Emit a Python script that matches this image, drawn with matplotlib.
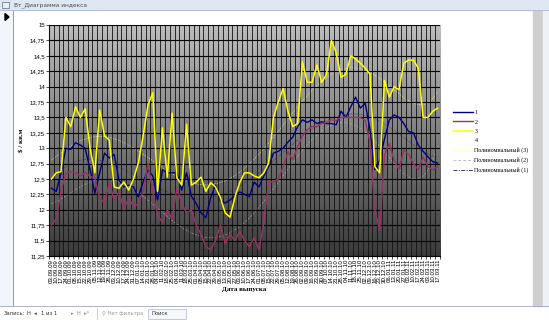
import numpy as np
import pandas as pd
import matplotlib.pyplot as plt
from matplotlib.patches import Rectangle, Polygon
from matplotlib.colors import LinearSegmentedColormap

# weekly issue dates (categories)
dates = pd.date_range('2009-09-03', periods=81, freq='7D').strftime('%d.%m.%y').tolist()

# series values, $ / sq.m
s1 = [12.35, 12.30, 12.60, 13.00, 12.98, 13.09, 13.05, 13.00, 12.65, 12.27,
      12.60, 12.92, 12.84, 12.90, 12.48, 12.37, 12.40, 12.37, 12.21, 12.45,
      12.65, 12.55, 12.16, 12.65, 12.60, 12.60, 12.60, 12.32, 12.60, 12.22,
      12.10, 11.95, 11.87, 12.20, 12.40, 12.15, 12.11, 12.16, 12.22, 12.29,
      12.25, 12.21, 12.45, 12.37, 12.55, 12.70, 12.92, 12.95, 13.00, 13.10,
      13.18, 13.35, 13.46, 13.42, 13.46, 13.40, 13.43, 13.40, 13.40, 13.38,
      13.60, 13.50, 13.67, 13.83, 13.65, 13.73, 13.30, 12.65, 12.80, 13.15,
      13.46, 13.54, 13.50, 13.40, 13.27, 13.25, 13.05, 12.95, 12.86, 12.78,
      12.76]
s2 = [11.75, 11.85, 12.30, 12.60, 12.62, 12.60, 12.55, 12.60, 12.55, 12.50,
      12.20, 12.10, 12.45, 12.15, 12.30, 12.00, 12.20, 12.05, 12.10, 12.30,
      12.75, 12.30, 11.90, 11.80, 12.00, 11.85, 12.35, 12.10, 11.95, 12.00,
      11.75, 11.60, 11.40, 11.35, 11.50, 11.75, 11.45, 11.60, 11.50, 11.65,
      11.50, 11.40, 11.55, 11.35, 11.80, 12.45, 12.45, 12.50, 12.70, 12.94,
      12.81, 13.02, 13.20, 13.30, 13.35, 13.35, 13.40, 13.42, 13.46, 13.45,
      13.50, 13.50, 13.50, 13.50, 13.50, 13.45, 13.10, 12.00, 11.67, 12.90,
      13.08, 12.80, 12.65, 12.97, 12.90, 12.75, 12.65, 12.86, 12.70, 12.65,
      12.70]
s3 = [12.50, 12.60, 12.62, 13.50, 13.35, 13.67, 13.50, 13.64, 13.00, 12.60,
      13.62, 13.20, 13.13, 12.37, 12.35, 12.45, 12.32, 12.50, 12.76, 13.20,
      13.70, 13.90, 12.30, 13.33, 12.53, 13.57, 12.52, 12.40, 13.39, 12.40,
      12.45, 12.53, 12.30, 12.44, 12.37, 12.20, 11.95, 11.88, 12.20, 12.44,
      12.60, 12.60, 12.55, 12.52, 12.60, 12.76, 13.50, 13.75, 13.97, 13.60,
      13.35, 13.40, 14.40, 14.07, 14.07, 14.35, 14.07, 14.20, 14.75, 14.55,
      14.15, 14.20, 14.50, 14.45, 14.38, 14.30, 14.20, 12.70, 12.60, 14.10,
      13.83, 14.00, 13.95, 14.38, 14.43, 14.43, 14.30, 13.50, 13.50, 13.60,
      13.65]
s4 = []
yticks = [11.25, 11.5, 11.75, 12, 12.25, 12.5, 12.75, 13, 13.25, 13.5,
          13.75, 14, 14.25, 14.5, 14.75, 15]

W, H = 549, 321
fig = plt.figure(figsize=(W / 100, H / 100), dpi=100)

# window chrome drawn in pixel coordinates
bg = fig.add_axes([0, 0, 1, 1])
bg.set_xlim(0, W)
bg.set_ylim(H, 0)
bg.axis('off')
bg.add_patch(Rectangle((0, 0), W, H, color='white'))
bg.add_patch(Rectangle((0, 0), W, 10, color='#dfe7f3'))
bg.plot([0, W], [10, 10], color='#a9b8cf', lw=0.6)
bg.add_patch(Rectangle((2, 2), 7, 6, facecolor='#e8eef8', edgecolor='#5a6a86', lw=0.5))
bg.text(14, 5, 'Вт_Диаграмма индекса', fontsize=4.2, color='#4a4a4a', va='center',
        family='DejaVu Sans')
bg.add_patch(Rectangle((0, 10.5), 12, 295, color='#f2f5fa'))
bg.plot([12.5, 12.5], [10.5, 305], color='#8a8a8a', lw=0.6)
bg.add_patch(Polygon([[5, 13.5], [5, 20.5], [9, 17]], color='black'))
bg.add_patch(Rectangle((533, 10.5), 10, 295, color='#cfcfcf'))
bg.add_patch(Rectangle((543, 10.5), 6, 295, color='#eef1f6'))
bg.plot([0, W], [305.5, 305.5], color='#9aa9bf', lw=0.6)
grad = np.linspace(0, 1, 32).reshape(-1, 1)
bg.imshow(grad, cmap=LinearSegmentedColormap.from_list('sb', ['#e6eef9', '#c9d8ec']),
          extent=[0, W, 321, 306], aspect='auto')
sb_font = dict(fontsize=3.8, va='center', family='DejaVu Sans')
bg.text(4, 313.5, 'Запись:', color='#333333', **sb_font)
bg.text(27, 313.5, 'H  ◂', color='#333333', **sb_font)
bg.text(41, 313.5, '1 из 1', color='#333333', **sb_font)
bg.text(71, 313.5, '▸  H  ▸*', color='#8a8a8a', **sb_font)
bg.plot([97, 97], [308, 319], color='#a9b8cf', lw=0.5)
bg.text(102, 313.5, '⚲ Нет фильтра', color='#9a9a9a', **sb_font)
bg.add_patch(Rectangle((148, 308.5), 38, 10, facecolor='#f4f7fb', edgecolor='#a9b8cf', lw=0.5))
bg.text(151, 313.5, 'Поиск', color='#333333', **sb_font)
bg.set_xlim(0, W)
bg.set_ylim(H, 0)

# chart
ax = fig.add_axes([49 / W, 1 - 256 / H, 391 / W, 231 / H])
ax.imshow(np.linspace(0, 1, 256).reshape(-1, 1),
          cmap=LinearSegmentedColormap.from_list('pa', ['#bdbdbd', '#3a3a3a']),
          extent=[0, 1, 0, 1], transform=ax.transAxes, aspect='auto', zorder=0)

x = np.arange(len(dates))
ax.plot(x, s1, color='#000080', lw=1.0, zorder=3, label='1')
ax.plot(x, s2, color='#993366', lw=1.0, zorder=3, label='2')
ax.plot(x, s3, color='#ffff00', lw=1.1, zorder=3, label='3')
ax.plot([], [], color='white', lw=1.0, label='4')

# polynomial trend lines (faint, behind the series)
xf = np.linspace(0, len(dates) - 1, 400)
t3 = np.polyval(np.polyfit(x, s3, 6), xf)
t2 = np.polyval(np.polyfit(x, s2, 6), xf)
t1 = np.polyval(np.polyfit(x, s1, 6), xf)
ax.plot(xf, t3, color='#ffff99', lw=0.5, alpha=0.7, ls=(0, (2, 1.5)), zorder=2,
        label='Полиномиальный (3)')
ax.plot(xf, t2, color='#c0c0c0', lw=0.5, alpha=0.7, ls=(0, (3, 2)), zorder=2,
        label='Полиномиальный (2)')
ax.plot(xf, t1, color='#333366', lw=0.5, alpha=0.7, ls=(0, (4, 1.5, 1, 1.5)), zorder=2,
        label='Полиномиальный (1)')

ax.set_xlim(-0.5, len(dates) - 0.5)
ax.set_ylim(11.25, 15)
ax.set_yticks(yticks)
ax.set_yticklabels([('%g' % v).replace('.', ',') for v in yticks],
                   fontsize=4.3, family='Liberation Sans')
ax.set_xticks(x)
ax.set_xticklabels(dates, rotation=90, fontsize=4.4, family='Liberation Sans')
ax.set_xticks(np.arange(-0.5, len(dates), 1), minor=True)
ax.tick_params(axis='x', which='major', length=0, pad=2)
ax.tick_params(axis='x', which='minor', length=2, width=0.5)
ax.tick_params(axis='y', length=2, width=0.5, pad=1)
ax.grid(axis='x', which='minor', color='#111111', lw=0.6, zorder=1)
ax.grid(axis='y', which='major', color='black', lw=0.8, zorder=1)
ax.set_axisbelow(False)
for sp in ['top', 'right']:
    ax.spines[sp].set_visible(False)
for sp in ['left', 'bottom']:
    ax.spines[sp].set_linewidth(0.8)

ax.set_xlabel('Дата выпуска', fontsize=5, fontweight='bold', family='Liberation Serif', labelpad=3)
ax.set_ylabel('$ / кв.м', fontsize=5, fontweight='bold', family='Liberation Serif', labelpad=4)

leg = fig.legend(loc='upper left', bbox_to_anchor=(450 / W, 1 - 107 / H), frameon=False,
                 borderpad=0, prop={'family': 'Liberation Serif', 'size': 4.3},
                 handlelength=3.3, handletextpad=0.3, labelspacing=0.7)
for h in leg.legend_handles[4:]:
    h.set_alpha(1)
    h.set_linewidth(0.7)

fig.savefig('out.png', dpi=100)
